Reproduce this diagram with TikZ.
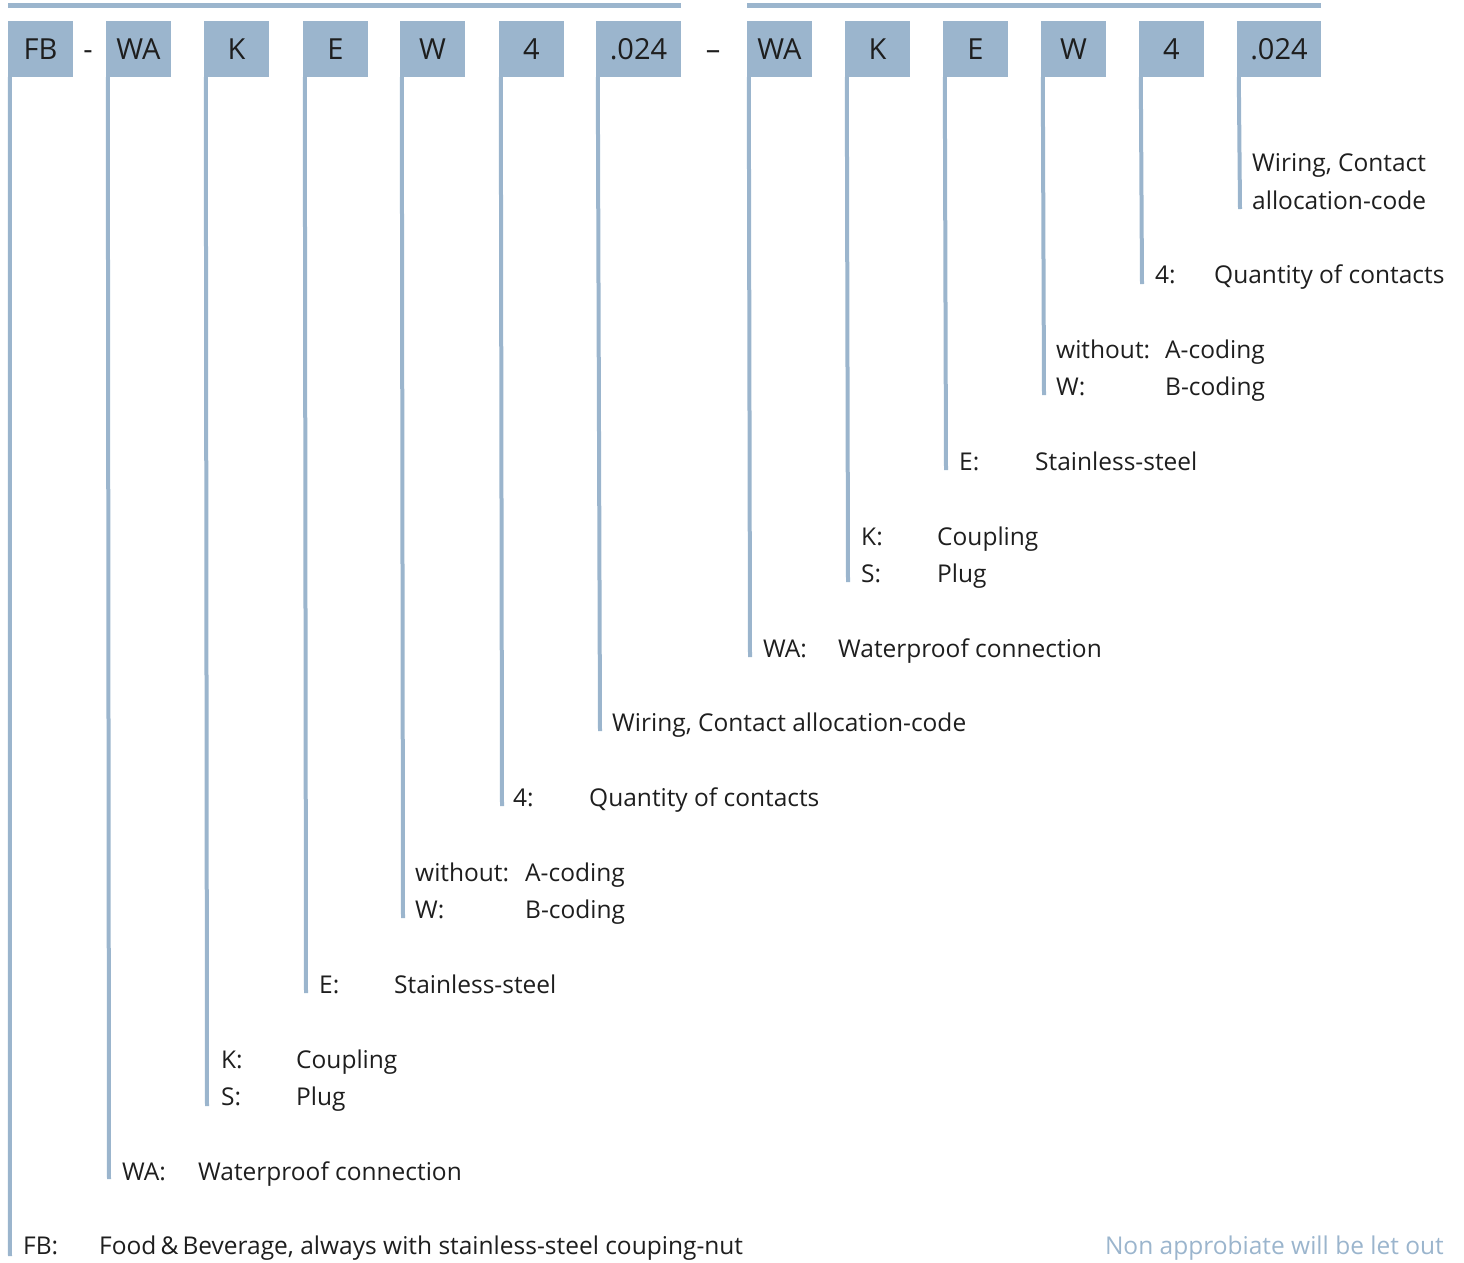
\documentclass[tikz,border=0pt]{standalone}
\usepackage{fontspec}
\setmainfont{Open Sans}
\definecolor{boxblue}{HTML}{9BB5CD}
\definecolor{txt}{HTML}{1E1E1E}
\begin{document}
\begin{tikzpicture}[x=1pt,y=-1pt,
  codebox/.style={fill=boxblue,draw=none,minimum height=56pt,inner sep=0pt,text=txt,font=\fontsize{29}{29}\selectfont},
  vline/.style={draw=boxblue,line width=4pt},
  topbar/.style={draw=boxblue,line width=5pt},
  lab/.style={anchor=base west,inner sep=0pt,text=txt,font=\fontsize{24.5}{28}\selectfont},
  sep/.style={anchor=base,inner sep=0pt,text=txt,font=\fontsize{29}{29}\selectfont}]
\useasboundingbox (0,0) rectangle (1464,1262);
% top bars
\coordinate (t1a) at (8,5); \coordinate (t1b) at (681,5);
\coordinate (t2a) at (747,5); \coordinate (t2b) at (1321,5);
\draw[topbar] (t1a) -- (t1b);
\draw[topbar] (t2a) -- (t2b);
% boxes left group
\node[codebox,minimum width=65pt] (fb) at (40.5,49) {FB};
\node[sep] (d1) at (88,59) {-};
\node[codebox,minimum width=65pt] (wa1) at (138.5,49) {WA};
\node[codebox,minimum width=65pt] (k1) at (236.5,49) {K};
\node[codebox,minimum width=65pt] (e1) at (335.5,49) {E};
\node[codebox,minimum width=65pt] (w1) at (432.5,49) {W};
\node[codebox,minimum width=65pt] (n1) at (531.5,49) {4};
\node[codebox,minimum width=85pt] (c1) at (638.5,49) {.024};
\node[sep] (d2) at (713,59) {–};
% boxes right group
\node[codebox,minimum width=65pt] (wa2) at (779.5,49) {WA};
\node[codebox,minimum width=65pt] (k2) at (877.5,49) {K};
\node[codebox,minimum width=65pt] (e2) at (975.5,49) {E};
\node[codebox,minimum width=65pt] (w2) at (1073.5,49) {W};
\node[codebox,minimum width=65pt] (n2) at (1171.5,49) {4};
\node[codebox,minimum width=84pt] (c2) at (1279,49) {.024};
% line ends
\coordinate (efb) at (10,1256);
\coordinate (ewa1) at (109,1179);
\coordinate (ek1) at (207,1106);
\coordinate (ee1) at (306,993);
\coordinate (ew1) at (403,918);
\coordinate (en1) at (502,806);
\coordinate (ec1) at (600,731);
\coordinate (ewa2) at (750,657);
\coordinate (ek2) at (848,582);
\coordinate (ee2) at (946,470);
\coordinate (ew2) at (1044,395);
\coordinate (en2) at (1142,284);
\coordinate (ec2) at (1240,209);
\draw[vline] ([xshift=2pt]fb.south west) -- (efb);
\draw[vline] ([xshift=2pt]wa1.south west) -- (ewa1);
\draw[vline] ([xshift=2pt]k1.south west) -- (ek1);
\draw[vline] ([xshift=2pt]e1.south west) -- (ee1);
\draw[vline] ([xshift=2pt]w1.south west) -- (ew1);
\draw[vline] ([xshift=2pt]n1.south west) -- (en1);
\draw[vline] ([xshift=2pt]c1.south west) -- (ec1);
\draw[vline] ([xshift=2pt]wa2.south west) -- (ewa2);
\draw[vline] ([xshift=2pt]k2.south west) -- (ek2);
\draw[vline] ([xshift=2pt]e2.south west) -- (ee2);
\draw[vline] ([xshift=2pt]w2.south west) -- (ew2);
\draw[vline] ([xshift=2pt]n2.south west) -- (en2);
\draw[vline] ([xshift=2pt]c2.south west) -- (ec2);
% labels left group
\node[lab] (lfb) at (23,1254) {FB:};
\node[lab] (lfbd) at (99,1254) {Food\,\&\,Beverage, always with stainless-steel couping-nut};
\node[lab] (lwa1) at (122,1180) {WA:};
\node[lab] (lwa1d) at (198,1180) {Waterproof connection};
\node[lab] (lk1) at (221,1068) {K:};
\node[lab] (lk1d) at (296,1068) {Coupling};
\node[lab] (ls1) at (221,1105) {S:};
\node[lab] (ls1d) at (296,1105) {Plug};
\node[lab] (le1) at (319,993) {E:};
\node[lab] (le1d) at (394,993) {Stainless-steel};
\node[lab] (lw1a) at (415,881) {without:};
\node[lab] (lw1ad) at (525,881) {A-coding};
\node[lab] (lw1b) at (415,918) {W:};
\node[lab] (lw1bd) at (525,918) {B-coding};
\node[lab] (ln1) at (513,806) {4:};
\node[lab] (ln1d) at (589,806) {Quantity of contacts};
\node[lab] (lc1) at (612,731) {Wiring, Contact allocation-code};
% labels right group
\node[lab] (lwa2) at (763,657) {WA:};
\node[lab] (lwa2d) at (838,657) {Waterproof connection};
\node[lab] (lk2) at (861,545) {K:};
\node[lab] (lk2d) at (937,545) {Coupling};
\node[lab] (ls2) at (861,582) {S:};
\node[lab] (ls2d) at (937,582) {Plug};
\node[lab] (le2) at (959,470) {E:};
\node[lab] (le2d) at (1035,470) {Stainless-steel};
\node[lab] (lw2a) at (1056,358) {without:};
\node[lab] (lw2ad) at (1165,358) {A-coding};
\node[lab] (lw2b) at (1056,395) {W:};
\node[lab] (lw2bd) at (1165,395) {B-coding};
\node[lab] (ln2) at (1155,283) {4:};
\node[lab] (ln2d) at (1214,283) {Quantity of contacts};
\node[lab] (lc2a) at (1252,171) {Wiring, Contact};
\node[lab] (lc2b) at (1252,209) {allocation-code};
% note
\node[anchor=base east,inner sep=0pt,text=boxblue,font=\fontsize{24.5}{28}\selectfont] (note) at (1444,1254) {Non approbiate will be let out};
\end{tikzpicture}
\end{document}
